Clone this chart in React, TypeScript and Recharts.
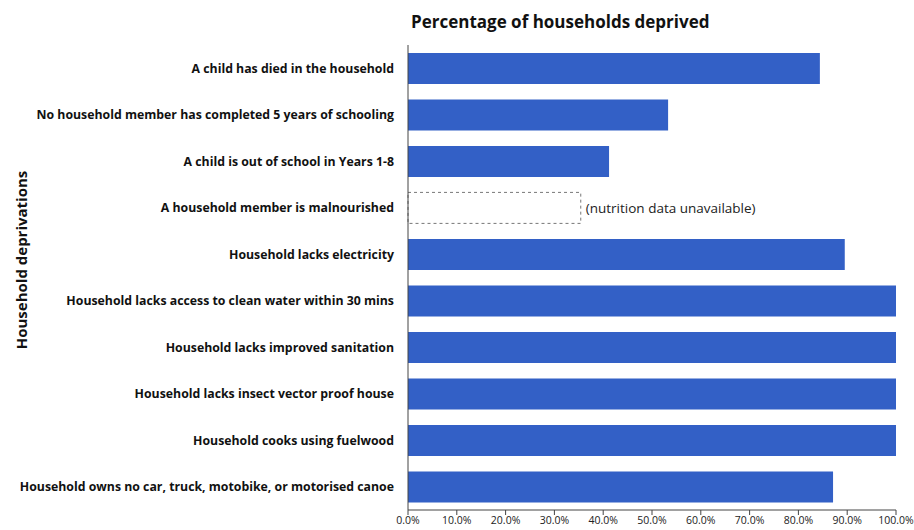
import { BarChart, Bar, XAxis, YAxis, LabelList } from 'recharts';

const categories = [
  'A child has died in the household',
  'No household member has completed 5 years of schooling',
  'A child is out of school in Years 1-8',
  'A household member is malnourished',
  'Household lacks electricity',
  'Household lacks access to clean water within 30 mins',
  'Household lacks improved sanitation',
  'Household lacks insect vector proof house',
  'Household cooks using fuelwood',
  'Household owns no car, truck, motobike, or motorised canoe',
];

// percentage deprived (null = no data)
const deprived = [84.4, 53.3, 41.2, null, 89.5, 100, 100, 100, 100, 87.1];

// placeholder box for the row without data
const unavailable = [null, null, null, 35.4, null, null, null, null, null, null];

const xTicks = [0, 10, 20, 30, 40, 50, 60, 70, 80, 90, 100];

const data = categories.map((name, i) => ({
  name,
  value: deprived[i],
  missing: unavailable[i],
}));

const BLUE = '#3360c6';
const FONT = '"Open Sans", Lato, sans-serif';

// rotated y axis title
const YTitle = () => (
  <text
    x={23}
    y={260}
    transform="rotate(-90 23 260)"
    textAnchor="middle"
    dominantBaseline="middle"
    fontSize={15}
    fontWeight={700}
    fill="#111"
    fontFamily={FONT}
  >
    Household deprivations
  </text>
);

export default function App() {
  return (
    <div style={{ position: 'absolute', left: 0, top: 0, width: 914, height: 530, background: '#fff', fontFamily: FONT }}>
      <div
        style={{
          position: 'absolute', top: 10, left: 411, width: 340,
          fontSize: 17, fontWeight: 700, color: '#111', whiteSpace: 'nowrap',
        }}
      >
        Percentage of households deprived
      </div>
      <BarChart
        width={914}
        height={530}
        data={data}
        layout="vertical"
        margin={{ top: 45, right: 18, bottom: 0, left: 0 }}
        barCategoryGap="17%"
      >
        <XAxis
          type="number"
          domain={[0, 100]}
          ticks={xTicks}
          tickFormatter={(v: number) => `${v.toFixed(1)}%`}
          tick={{ fontSize: 10.5, fill: '#222', fontFamily: FONT }}
          axisLine={{ stroke: '#444' }}
          tickLine={{ stroke: '#444' }}
          tickSize={5}
          height={20}
        />
        <YAxis
          type="category"
          dataKey="name"
          width={408}
          interval={0}
          tick={{ fontSize: 12.3, fontWeight: 700, fill: '#111', fontFamily: FONT }}
          axisLine={{ stroke: '#444' }}
          tickLine={false}
          tickMargin={8}
          label={{ content: () => <YTitle /> }}
        />
        <Bar dataKey="value" stackId="a" fill={BLUE} isAnimationActive={false} />
        <Bar
          dataKey="missing"
          stackId="a"
          fill="#fff"
          stroke="#777"
          strokeDasharray="3 3"
          isAnimationActive={false}
        >
          <LabelList
            dataKey="missing"
            position="right"
            formatter={() => '(nutrition data unavailable)'}
            style={{ fontSize: 13.5, fill: '#222', fontFamily: FONT }}
          />
        </Bar>
      </BarChart>
    </div>
  );
}
